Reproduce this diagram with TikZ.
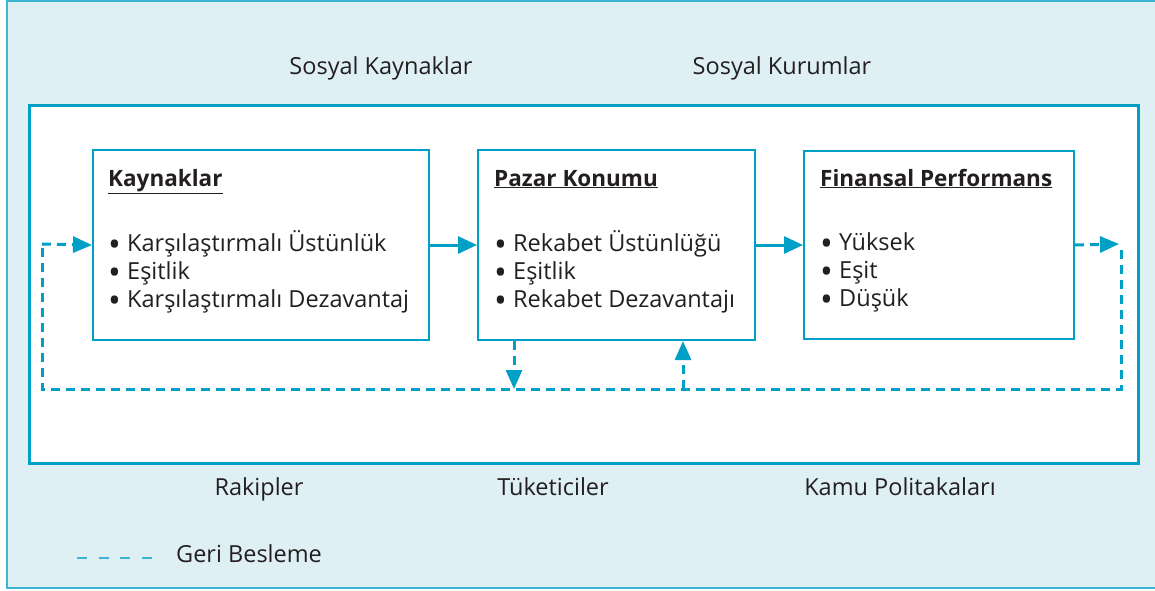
\documentclass[tikz,border=0pt]{standalone}
\usepackage{fontspec}
\setmainfont{Open Sans}
\usetikzlibrary{arrows.meta}
\definecolor{bgc}{RGB}{223,240,245}
\definecolor{mainc}{RGB}{0,160,198}
\definecolor{legc}{RGB}{60,180,214}
\definecolor{txt}{RGB}{35,31,32}
\newcommand\bul{\makebox[19pt][l]{\raisebox{-0.22em}{\scalebox{1.45}{•}}}}
\newcommand\firstline{\rule{0pt}{20pt}}
\tikzset{
  boxnode/.style={draw=mainc, line width=2pt, fill=white, inner sep=0pt, anchor=north west},
  frame/.style={draw=mainc, line width=2.5pt, fill=white, inner sep=0pt, anchor=north west},
  lbl/.style={text=txt, font=\fontsize{23.5}{28}\selectfont, inner sep=0pt, anchor=base},
  title/.style={text=txt, font=\fontsize{22.5}{27}\selectfont\bfseries, inner sep=0pt, anchor=base west},
  items/.style={text=txt, font=\fontsize{23.5}{28}\selectfont, inner sep=0pt, anchor=north west, align=left},
  solidarrow/.style={draw=mainc, line width=3pt, -{Triangle[length=19pt,width=17pt]}},
  fb/.style={draw=mainc, line width=3pt, dash pattern=on 9pt off 6pt},
  fbtip/.style={fb, -{Triangle[length=19pt,width=16pt]}},
}
\begin{document}
\begin{tikzpicture}[x=1pt,y=-1pt]
\useasboundingbox (0,0) rectangle (1155,590);
\begin{scope}
\clip (0,0) rectangle (1155,590);
\fill[bgc] (7,1) rectangle (1165,588);
\draw[legc, line width=1.2pt] (1165,1) -- (7,1) -- (7,588) -- (1165,588);
\end{scope}
\node[frame, minimum width=1109pt, minimum height=358pt] (fr) at (28,104) {};

\node[lbl] (sk) at (381,74) {Sosyal Kaynaklar};
\node[lbl] (su) at (782,74) {Sosyal Kurumlar};
\node[lbl] (rk) at (259,495) {Rakipler};
\node[lbl] (tk) at (553,495) {Tüketiciler};
\node[lbl] (kp) at (900,495) {Kamu Politakaları};

\node[boxnode, minimum width=336pt, minimum height=190pt] (k) at (92,149) {};
\node[boxnode, minimum width=277pt, minimum height=190pt] (p) at (477,149) {};
\node[boxnode, minimum width=270pt, minimum height=188pt] (f) at (803,150) {};

\node[title] (kt) at (108,186) {\underline{Kaynaklar}};
\node[title] (pt) at (494,186) {\underline{Pazar Konumu}};
\node[title] (ft) at (820,186) {\underline{Finansal Performans}};

\node[items] (ki) at (108,230) {\firstline\bul Karşılaştırmalı Üstünlük\\\bul Eşitlik\\\bul Karşılaştırmalı Dezavantaj};
\node[items] (pi) at (494,230) {\firstline\bul Rekabet Üstünlüğü\\\bul Eşitlik\\\bul Rekabet Dezavantajı};
\node[items] (fi) at (820,230) {\firstline\bul Yüksek\\\bul Eşit\\\bul Düşük};

\draw[solidarrow] (k.east) -- (p.west);
\draw[solidarrow] (p.east) -- (f.west);

\coordinate (rt) at (1119,244);
\coordinate (rb) at (1121,389);
\coordinate (lb) at (42,389);
\coordinate (lt) at (42,244);
\coordinate (d1) at (514,389);
\coordinate (u1) at (683,389);
\draw[fbtip] (f.east) -- (rt);
\draw[fb] (1121,250) -- (rb) -- (lb) -- (lt);
\draw[fbtip] (lt) -- (k.west);
\draw[fbtip] (p.south -| d1) -- (d1);
\draw[fbtip] (u1) -- (p.south -| u1);

\coordinate (l1) at (77,558);
\coordinate (l2) at (152,558);
\draw[legc, line width=1.2pt, dash pattern=on 10pt off 11.7pt] (l1) -- (l2);
\node[lbl, anchor=base west] (gb) at (176,562) {Geri Besleme};
\end{tikzpicture}
\end{document}
